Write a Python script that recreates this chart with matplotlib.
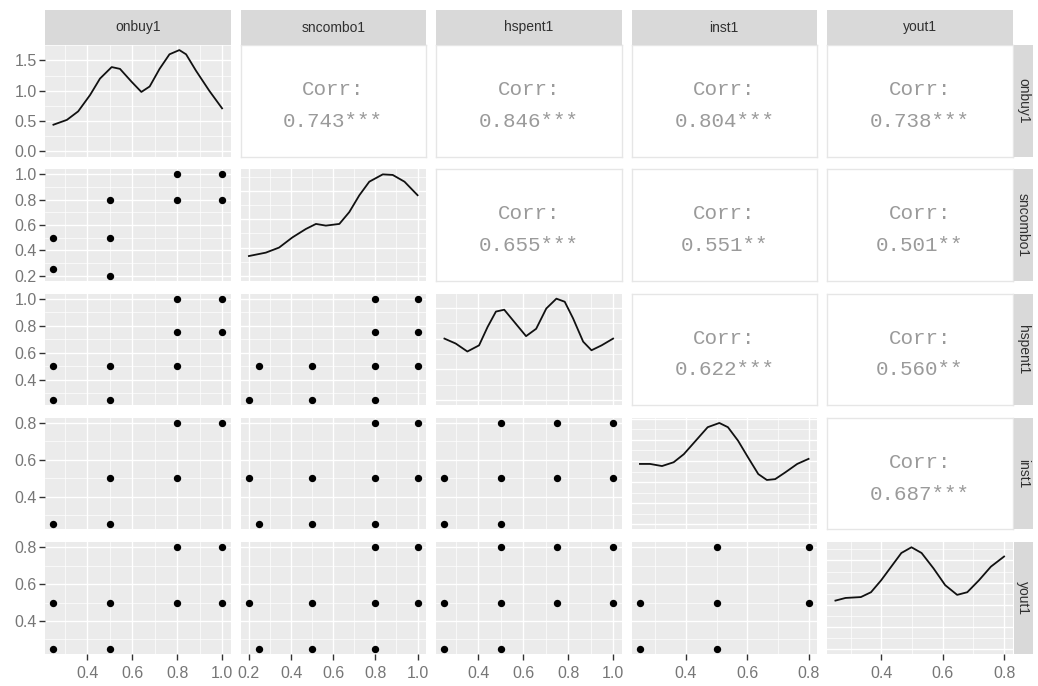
import matplotlib.pyplot as plt
from matplotlib.ticker import FormatStrFormatter, MultipleLocator

W, H = 1038, 686

variables = ["onbuy1", "sncombo1", "hspent1", "inst1", "yout1"]

# value range of each variable (used for the axis limits)
var_range = {
    "onbuy1": (0.25, 1.0),
    "sncombo1": (0.2, 1.0),
    "hspent1": (0.25, 1.0),
    "inst1": (0.25, 0.8),
    "yout1": (0.25, 0.8),
}

# scatter panels: (y variable, x variable) -> x values, y values
sncombo1_onbuy1_x = [0.25, 0.25, 0.5, 0.5, 0.5, 0.8, 0.8, 1.0, 1.0]
sncombo1_onbuy1_y = [0.5, 0.25, 0.8, 0.5, 0.2, 1.0, 0.8, 1.0, 0.8]

hspent1_onbuy1_x = [0.8, 1.0, 0.8, 1.0, 0.25, 0.5, 0.8, 0.25, 0.5]
hspent1_onbuy1_y = [1.0, 1.0, 0.75, 0.75, 0.5, 0.5, 0.5, 0.25, 0.25]

hspent1_sncombo1_x = [0.8, 1.0, 0.8, 1.0, 0.25, 0.5, 0.8, 1.0, 0.2, 0.5, 0.8]
hspent1_sncombo1_y = [1.0, 1.0, 0.75, 0.75, 0.5, 0.5, 0.5, 0.5, 0.25, 0.25, 0.25]

inst1_onbuy1_x = [0.8, 1.0, 0.5, 0.8, 0.25, 0.5]
inst1_onbuy1_y = [0.8, 0.8, 0.5, 0.5, 0.25, 0.25]

inst1_sncombo1_x = [0.8, 1.0, 0.2, 0.5, 0.8, 1.0, 0.25, 0.5, 0.8]
inst1_sncombo1_y = [0.8, 0.8, 0.5, 0.5, 0.5, 0.5, 0.25, 0.25, 0.25]

inst1_hspent1_x = [0.5, 0.75, 1.0, 0.25, 0.5, 0.75, 1.0, 0.25, 0.5]
inst1_hspent1_y = [0.8, 0.8, 0.8, 0.5, 0.5, 0.5, 0.5, 0.25, 0.25]

yout1_onbuy1_x = [0.8, 1.0, 0.25, 0.5, 0.8, 1.0, 0.25, 0.5]
yout1_onbuy1_y = [0.8, 0.8, 0.5, 0.5, 0.5, 0.5, 0.25, 0.25]

yout1_sncombo1_x = [0.8, 1.0, 0.2, 0.5, 0.8, 1.0, 0.25, 0.5, 0.8]
yout1_sncombo1_y = [0.8, 0.8, 0.5, 0.5, 0.5, 0.5, 0.25, 0.25, 0.25]

yout1_hspent1_x = [0.5, 0.75, 1.0, 0.25, 0.5, 0.75, 1.0, 0.25, 0.5]
yout1_hspent1_y = [0.8, 0.8, 0.8, 0.5, 0.5, 0.5, 0.5, 0.25, 0.25]

yout1_inst1_x = [0.5, 0.8, 0.25, 0.5, 0.8, 0.25, 0.5]
yout1_inst1_y = [0.8, 0.8, 0.5, 0.5, 0.5, 0.25, 0.25]

scatter_data = {
    (1, 0): (sncombo1_onbuy1_x, sncombo1_onbuy1_y),
    (2, 0): (hspent1_onbuy1_x, hspent1_onbuy1_y),
    (2, 1): (hspent1_sncombo1_x, hspent1_sncombo1_y),
    (3, 0): (inst1_onbuy1_x, inst1_onbuy1_y),
    (3, 1): (inst1_sncombo1_x, inst1_sncombo1_y),
    (3, 2): (inst1_hspent1_x, inst1_hspent1_y),
    (4, 0): (yout1_onbuy1_x, yout1_onbuy1_y),
    (4, 1): (yout1_sncombo1_x, yout1_sncombo1_y),
    (4, 2): (yout1_hspent1_x, yout1_hspent1_y),
    (4, 3): (yout1_inst1_x, yout1_inst1_y),
}

# density curves on the diagonal
onbuy1_dens_x = [0.25, 0.31, 0.36, 0.413, 0.457, 0.509, 0.546, 0.597, 0.641,
                 0.678, 0.722, 0.766, 0.81, 0.84, 0.884, 0.943, 1.0]
onbuy1_dens_y = [0.44, 0.52, 0.66, 0.93, 1.20, 1.39, 1.36, 1.15, 0.98,
                 1.07, 1.36, 1.60, 1.67, 1.60, 1.33, 1.00, 0.71]

sncombo1_dens_x = [0.2, 0.28, 0.343, 0.406, 0.47, 0.518, 0.565, 0.629,
                   0.676, 0.724, 0.771, 0.835, 0.882, 0.938, 1.0]
sncombo1_dens_y = [0.35, 0.41, 0.50, 0.68, 0.83, 0.92, 0.89, 0.92,
                   1.13, 1.43, 1.67, 1.80, 1.79, 1.67, 1.43]

hspent1_dens_x = [0.25, 0.30, 0.352, 0.404, 0.442, 0.479, 0.516, 0.561, 0.613,
                  0.658, 0.703, 0.748, 0.785, 0.822, 0.867, 0.904, 0.949, 1.0]
hspent1_dens_y = [1.00, 0.92, 0.79, 0.89, 1.19, 1.44, 1.47, 1.27, 1.04,
                  1.16, 1.49, 1.65, 1.60, 1.33, 0.95, 0.81, 0.89, 1.00]

inst1_dens_x = [0.25, 0.283, 0.322, 0.36, 0.393, 0.432, 0.471, 0.509, 0.537,
                0.57, 0.603, 0.636, 0.664, 0.691, 0.724, 0.763, 0.8]
inst1_dens_y = [1.43, 1.43, 1.38, 1.47, 1.66, 1.98, 2.30, 2.40, 2.30,
                1.98, 1.58, 1.19, 1.05, 1.07, 1.23, 1.43, 1.55]

yout1_dens_x = [0.25, 0.283, 0.333, 0.366, 0.399, 0.432, 0.465, 0.498,
                0.531, 0.57, 0.608, 0.647, 0.68, 0.718, 0.757, 0.8]
yout1_dens_y = [1.09, 1.15, 1.17, 1.28, 1.55, 1.86, 2.17, 2.30,
                2.17, 1.82, 1.44, 1.22, 1.28, 1.55, 1.86, 2.09]

density_data = [
    (onbuy1_dens_x, onbuy1_dens_y),
    (sncombo1_dens_x, sncombo1_dens_y),
    (hspent1_dens_x, hspent1_dens_y),
    (inst1_dens_x, inst1_dens_y),
    (yout1_dens_x, yout1_dens_y),
]

# upper triangle correlations
corr_cells = [(0, 1), (0, 2), (0, 3), (0, 4), (1, 2), (1, 3), (1, 4), (2, 3), (2, 4), (3, 4)]
corr_values = [0.743, 0.846, 0.804, 0.738, 0.655, 0.551, 0.501, 0.622, 0.560, 0.687]
corr_stars = ["***", "***", "***", "***", "***", "**", "**", "***", "**", "***"]

# layout in pixels
PANEL_LEFT, PANEL_TOP = 45, 45
PANEL_W, PANEL_H = 185.5, 111.5
COL_STEP, ROW_STEP = 195.5, 124.3
STRIP_TOP, STRIP_H = 10, 35
RSTRIP_W = 19

PANEL_BG = "#ebebeb"
STRIP_BG = "#d9d9d9"
TICK_TEXT = "#767676"
CORR_TEXT = "#9a9a9a"

plt.rcParams["font.family"] = ["Liberation Sans", "DejaVu Sans"]


def px_rect(left, top, w, h):
    return [left / W, 1 - (top + h) / H, w / W, h / H]


def expand(lo, hi, mult=0.05):
    pad = (hi - lo) * mult
    return lo - pad, hi + pad


def style_grid(ax, ystep=0.2):
    ax.set_facecolor(PANEL_BG)
    for s in ax.spines.values():
        s.set_visible(False)
    ax.xaxis.set_major_locator(MultipleLocator(0.2))
    ax.xaxis.set_minor_locator(MultipleLocator(0.1))
    ax.yaxis.set_major_locator(MultipleLocator(ystep))
    ax.yaxis.set_minor_locator(MultipleLocator(ystep / 2))
    ax.grid(which="major", color="white", linewidth=1.0)
    ax.grid(which="minor", color="white", linewidth=0.5)
    ax.set_axisbelow(True)
    ax.tick_params(which="both", length=0, labelbottom=False, labelleft=False)


def strip(rect, label, rotation=0):
    sax = fig.add_axes(rect)
    sax.set_facecolor(STRIP_BG)
    sax.set_xticks([])
    sax.set_yticks([])
    for s in sax.spines.values():
        s.set_visible(False)
    sax.text(0.5, 0.5, label, transform=sax.transAxes, ha="center",
             va="center", rotation=rotation, fontsize=10, color="#303030")


fig = plt.figure(figsize=(W / 100, H / 100), dpi=100, facecolor="white")

n = len(variables)
for row in range(n):
    for col in range(n):
        left = PANEL_LEFT + col * COL_STEP
        top = PANEL_TOP + row * ROW_STEP
        ax = fig.add_axes(px_rect(left, top, PANEL_W, PANEL_H))
        xvar, yvar = variables[col], variables[row]

        if row == col:
            dx, dy = density_data[row]
            style_grid(ax, ystep=0.5)
            ax.plot(dx, dy, color="#111111", linewidth=1.3,
                    solid_joinstyle="round")
            peak = max(dy)
            ax.set_ylim(-0.05 * peak, 1.05 * peak)
            ax.set_xlim(*expand(*var_range[xvar]))
        elif row > col:
            sx, sy = scatter_data[(row, col)]
            style_grid(ax, ystep=0.2)
            ax.scatter(sx, sy, s=28, color="black", linewidths=0, zorder=3)
            ax.set_xlim(*expand(*var_range[xvar]))
            ax.set_ylim(*expand(*var_range[yvar]))
        else:
            k = corr_cells.index((row, col))
            ax.set_facecolor("white")
            for s in ax.spines.values():
                s.set_color("#e6e6e6")
                s.set_linewidth(1.0)
            ax.set_xticks([])
            ax.set_yticks([])
            ax.text(0.5, 0.60, "Corr:", transform=ax.transAxes, ha="center",
                    va="center", family="Liberation Mono", fontsize=15,
                    color=CORR_TEXT)
            ax.text(0.5, 0.315, f"{corr_values[k]:.3f}{corr_stars[k]}",
                    transform=ax.transAxes, ha="center", va="center",
                    family="Liberation Mono", fontsize=15, color=CORR_TEXT)

        # outer axes: left column and bottom row
        if col == 0:
            ax.tick_params(axis="y", which="major", length=4, width=1,
                           color="#333333", labelleft=True, labelsize=11.5,
                           labelcolor=TICK_TEXT, pad=2)
            ax.yaxis.set_major_formatter(FormatStrFormatter("%.1f"))
        if row == n - 1:
            ax.tick_params(axis="x", which="major", length=4, width=1,
                           color="#333333", labelbottom=True, labelsize=11.5,
                           labelcolor=TICK_TEXT, pad=5)
            ax.xaxis.set_major_formatter(FormatStrFormatter("%.1f"))

        # facet strips
        if row == 0:
            strip(px_rect(left, STRIP_TOP, PANEL_W, STRIP_H), xvar)
        if col == n - 1:
            strip(px_rect(left + PANEL_W + 1, top, RSTRIP_W, PANEL_H), yvar,
                  rotation=-90)

fig.savefig("out.png", dpi=100, facecolor="white")
